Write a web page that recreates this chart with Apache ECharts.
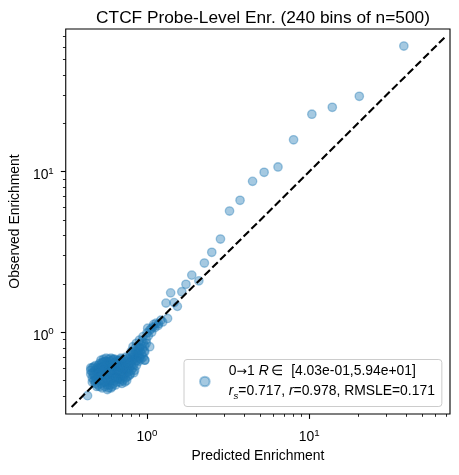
<!DOCTYPE html>
<html>
<head>
<meta charset="utf-8">
<script src="https://cdn.jsdelivr.net/npm/echarts@6.0.0/dist/echarts.min.js"></script>
<style>
  html, body { margin: 0; padding: 0; background: #fff; }
  #c { width: 459px; height: 475px; }
</style>
</head>
<body>
<div id="c"></div>
<script>
// ---------------- data (predicted, observed) ----------------
const upperPts = [
  [38.4, 60.6], [20.4, 29.5], [13.9, 25.2], [10.4, 22.8], [8.02, 15.8], [6.43, 10.7],
  [5.28, 9.92], [4.48, 8.71], [3.75, 6.64], [3.23, 5.69], [2.84, 3.81], [2.51, 3.15],
  [2.26, 2.70], [1.89, 2.27], [2.09, 2.09], [1.74, 1.99], [1.64, 1.79], [1.40, 1.76],
  [1.31, 1.52], [1.47, 1.53], [1.54, 1.45], [1.34, 1.22], [1.25, 1.16], [1.22, 1.19],
  [1.14, 1.14], [1.09, 1.08], [1.04, 1.03], [1.00, 0.99], [1.10, 1.12], [1.06, 1.05],
  [1.18, 1.13], [1.02, 0.95], [1.07, 1.00], [1.12, 1.07], [1.17, 1.10], [1.01, 1.06]
];
const chainPts = [
  [0.945, 0.94], [0.90, 0.895], [0.86, 0.854], [0.82, 0.813], [0.99, 0.854], [1.04, 0.813],
  [0.97, 0.757], [0.90, 0.795], [0.68, 0.672], [0.765, 0.689], [0.82, 0.722], [0.90, 0.689],
  [0.97, 0.672], [0.99, 0.90], [0.93, 0.88], [0.85, 0.80], [0.43, 0.403]
];
const blobLeft = [
  [0.45, 0.55], [0.45, 0.58], [0.46, 0.52], [0.46, 0.60], [0.47, 0.56], [0.47, 0.50], [0.47, 0.61],
  [0.48, 0.53], [0.48, 0.58], [0.48, 0.48], [0.49, 0.55], [0.49, 0.60], [0.49, 0.51], [0.50, 0.57],
  [0.50, 0.62], [0.50, 0.47], [0.50, 0.53], [0.46, 0.56], [0.48, 0.62], [0.49, 0.46], [0.47, 0.54],
  [0.45, 0.60], [0.50, 0.59], [0.48, 0.50], [0.46, 0.49]
];
const blobMid1 = [
  [0.51, 0.64], [0.51, 0.56], [0.51, 0.50], [0.51, 0.46], [0.52, 0.67], [0.52, 0.60], [0.52, 0.53],
  [0.52, 0.48], [0.53, 0.65], [0.53, 0.58], [0.53, 0.51], [0.53, 0.45], [0.54, 0.68], [0.54, 0.62],
  [0.54, 0.55], [0.54, 0.49], [0.55, 0.66], [0.55, 0.59], [0.55, 0.52], [0.55, 0.46], [0.56, 0.69],
  [0.56, 0.63], [0.56, 0.57], [0.56, 0.50], [0.57, 0.65], [0.57, 0.60], [0.57, 0.54], [0.57, 0.47],
  [0.58, 0.68], [0.58, 0.62], [0.58, 0.56], [0.58, 0.49], [0.58, 0.45], [0.52, 0.63], [0.53, 0.55],
  [0.55, 0.62], [0.56, 0.54], [0.57, 0.44], [0.54, 0.58], [0.51, 0.60], [0.55, 0.49], [0.53, 0.61],
  [0.56, 0.66], [0.57, 0.51], [0.54, 0.65]
];
const blobMid2 = [
  [0.59, 0.66], [0.59, 0.60], [0.59, 0.53], [0.59, 0.47], [0.60, 0.69], [0.60, 0.63], [0.60, 0.57],
  [0.60, 0.50], [0.61, 0.67], [0.61, 0.61], [0.61, 0.55], [0.61, 0.46], [0.62, 0.64], [0.62, 0.58],
  [0.62, 0.52], [0.62, 0.48], [0.63, 0.68], [0.63, 0.62], [0.63, 0.56], [0.63, 0.50], [0.64, 0.65],
  [0.64, 0.59], [0.64, 0.53], [0.64, 0.47], [0.65, 0.67], [0.65, 0.61], [0.65, 0.55], [0.65, 0.49],
  [0.66, 0.63], [0.66, 0.57], [0.66, 0.51], [0.60, 0.45], [0.62, 0.61], [0.63, 0.53], [0.61, 0.58],
  [0.64, 0.62], [0.59, 0.56], [0.66, 0.66], [0.62, 0.68], [0.65, 0.52]
];
const blobMid3 = [
  [0.67, 0.64], [0.67, 0.58], [0.67, 0.52], [0.68, 0.67], [0.68, 0.61], [0.68, 0.55], [0.68, 0.49],
  [0.69, 0.63], [0.69, 0.57], [0.69, 0.51], [0.70, 0.66], [0.70, 0.60], [0.70, 0.54], [0.70, 0.48],
  [0.71, 0.62], [0.71, 0.56], [0.71, 0.50], [0.72, 0.65], [0.72, 0.59], [0.72, 0.53], [0.73, 0.61],
  [0.73, 0.55], [0.73, 0.49], [0.74, 0.64], [0.74, 0.58], [0.74, 0.52], [0.75, 0.62], [0.75, 0.56],
  [0.75, 0.50], [0.76, 0.66], [0.76, 0.59], [0.76, 0.53], [0.69, 0.69], [0.72, 0.68], [0.74, 0.70]
];
const blobRight = [
  [0.77, 0.63], [0.77, 0.57], [0.78, 0.68], [0.78, 0.60], [0.78, 0.54], [0.79, 0.72], [0.79, 0.65],
  [0.80, 0.58], [0.80, 0.62], [0.81, 0.70], [0.81, 0.66], [0.82, 0.60], [0.82, 0.74], [0.83, 0.68],
  [0.83, 0.63], [0.84, 0.72], [0.84, 0.58], [0.85, 0.66], [0.85, 0.76], [0.86, 0.70], [0.86, 0.62],
  [0.87, 0.74], [0.87, 0.67], [0.88, 0.78], [0.88, 0.71], [0.79, 0.55], [0.83, 0.56], [0.80, 0.76],
  [0.89, 0.74], [0.89, 0.66], [0.90, 0.80], [0.90, 0.70], [0.91, 0.76], [0.92, 0.68], [0.92, 0.83],
  [0.93, 0.73], [0.94, 0.79], [0.95, 0.70], [0.95, 0.86], [0.96, 0.76], [0.97, 0.67], [0.97, 0.82]
];
const diagLine = [0.343, 68.3];              // y = x reference line extent
const xLim = [0.3155, 73.96];
const yLim = [0.3098, 77.4];
const majorTicks = [1, 10];
const minorTicks = [0.4, 0.5, 0.6, 0.7, 0.8, 0.9, 2, 3, 4, 5, 6, 7, 8, 9, 20, 30, 40, 50, 60, 70];
const titleText = 'CTCF Probe-Level Enr. (240 bins of n=500)';
const xName = 'Predicted Enrichment';
const yName = 'Observed Enrichment';
const seriesName = 'bins';
const legendLine1 = '{a|0}{arr|\u2192}{a|1 }{i|R}{a|\u2009\u2208  [4.03e-01,5.94e+01]}';
const legendLine2 = '{i|r}{sub|s}{a|=0.717, }{i|r}{a|=0.978, RMSLE=0.171}';

const points = [].concat(upperPts, chainPts, blobLeft, blobMid1, blobMid2, blobMid3, blobRight);

// ---------------- chart ----------------
const FONT = '"Liberation Sans", Arial, Helvetica, sans-serif';
const supFmt = v => '{b|10}{sup|' + Math.round(Math.log10(v)) + '}';
const labelRich = {
  b: { fontSize: 13.9, fontFamily: FONT, color: '#000', lineHeight: 18 },
  sup: { fontSize: 9.7, fontFamily: FONT, color: '#000', verticalAlign: 'top', lineHeight: 10 }
};
const legendRich = {
  a: { fontSize: 13.9, fontFamily: FONT, color: '#000', lineHeight: 20 },
  arr: { fontSize: 12.5, fontFamily: '"DejaVu Sans", sans-serif', color: '#000', lineHeight: 20 },
  i: { fontSize: 13.9, fontFamily: FONT, color: '#000', lineHeight: 20, fontStyle: 'italic' },
  sub: { fontSize: 9.7, fontFamily: FONT, color: '#000', fontStyle: 'italic', verticalAlign: 'bottom', lineHeight: 13 }
};
const nameStyle = { fontSize: 13.9, fontFamily: FONT, color: '#000' };

function mainAxis(lim, isY) {
  return {
    type: 'log', logBase: 10, min: lim[0], max: lim[1],
    position: isY ? 'left' : 'bottom',
    axisLine: { show: false },
    splitLine: { show: false },
    minorTick: { show: false },
    minorSplitLine: { show: false },
    axisTick: { show: true, customValues: majorTicks, length: 4.9, lineStyle: { color: '#000', width: 1.1 } },
    axisLabel: isY
      ? { customValues: majorTicks, formatter: supFmt, rich: labelRich, margin: 12, padding: [7, 0, 0, 0] }
      : { customValues: majorTicks, formatter: supFmt, rich: labelRich, margin: 14 },
    name: isY ? yName : xName,
    nameLocation: 'middle',
    nameGap: isY ? 40 : 35.5,
    nameTextStyle: nameStyle
  };
}
function minorAxis(lim, isY) {
  return {
    type: 'log', logBase: 10, min: lim[0], max: lim[1],
    position: isY ? 'left' : 'bottom',
    offset: 0,
    axisLine: { show: false },
    splitLine: { show: false },
    minorTick: { show: false },
    axisTick: { show: true, customValues: minorTicks, length: 2.8, lineStyle: { color: '#000', width: 0.85 } },
    axisLabel: { show: false }
  };
}

const chart = echarts.init(document.getElementById('c'), null, { renderer: 'canvas' });
chart.setOption({
  animation: false,
  backgroundColor: '#fff',
  title: {
    text: titleText, left: 258, top: 5, textAlign: 'center',
    textStyle: { fontSize: 17.3, fontWeight: 'normal', fontFamily: FONT, color: '#000' }
  },
  grid: { left: 62, top: 29, width: 388, height: 385, show: true, borderColor: '#000', borderWidth: 1.1, backgroundColor: 'transparent' },
  xAxis: [mainAxis(xLim, false), minorAxis(xLim, false)],
  yAxis: [mainAxis(yLim, true), minorAxis(yLim, true)],
  legend: {
    data: [{ name: seriesName, icon: 'circle' }],
    left: 184, top: 359.5, orient: 'vertical',
    itemWidth: 38, itemHeight: 9.7,
    padding: [5, 7, 5, 15],
    backgroundColor: 'rgba(255,255,255,0.8)',
    borderColor: '#cccccc', borderWidth: 1, borderRadius: 3,
    selectedMode: false,
    formatter: () => legendLine1 + '\n' + legendLine2,
    textStyle: { rich: legendRich, fontFamily: FONT, fontSize: 13.9 }
  },
  series: [
    {
      type: 'scatter', name: seriesName, xAxisIndex: 0, yAxisIndex: 0,
      data: points, symbolSize: 8.4,
      itemStyle: { color: 'rgba(31,119,180,0.5)', borderColor: 'rgba(31,119,180,0.5)', borderWidth: 1.35 },
      emphasis: { disabled: true }, z: 2
    },
    {
      type: 'line', name: 'diag', xAxisIndex: 0, yAxisIndex: 0,
      data: diagLine.map(v => [v, v]), symbol: 'none', silent: true,
      lineStyle: { color: '#000', width: 2.1, type: [7.7, 3.3] }, z: 3
    }
  ]
});
</script>
</body>
</html>
